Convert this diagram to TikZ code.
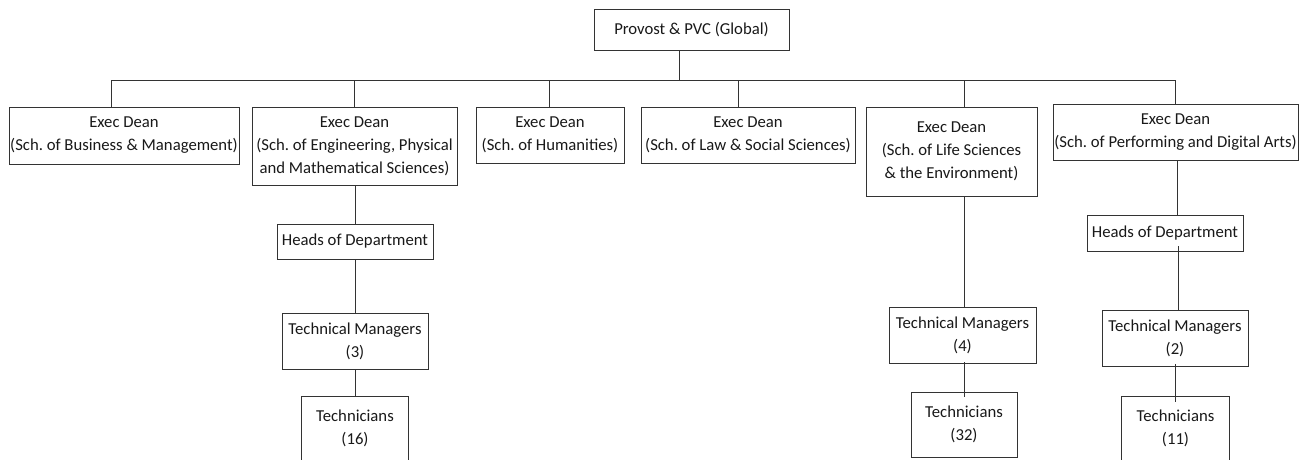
\documentclass[tikz,border=0pt]{standalone}
\usepackage{fontspec}
\setmainfont{Carlito}
\frenchspacing
\begin{document}
\begin{tikzpicture}[x=1pt,y=-1pt,
  box/.style={draw=black!80,line width=0.9pt,inner sep=0pt,align=center,font=\fontsize{16.7}{23}\selectfont,text=black!90},
  open/.style={draw=none,inner sep=0pt,align=center,font=\fontsize{16.7}{23}\selectfont,text=black!90},
  edge/.style={draw=black!80,line width=0.9pt}]
\useasboundingbox[fill=white] (0,0) rectangle (1309,459);
\clip (0,0) rectangle (1309,459);
% nodes
\node[box,minimum width=195,minimum height=41] (top) at (691.5,29.5) {Provost \& PVC (Global)};
\node[box,minimum width=230,minimum height=57] (b1) at (124,135.5) {Exec Dean\\(Sch. of Business \& Management)};
\node[box,minimum width=205,minimum height=78] (b2) at (354.5,146) {Exec Dean\\(Sch. of Engineering, Physical\\and Mathematical Sciences)};
\node[box,minimum width=148,minimum height=56] (b3) at (550,135) {Exec Dean\\(Sch. of Humanities)};
\node[box,minimum width=214,minimum height=56] (b4) at (748,135) {Exec Dean\\(Sch. of Law \& Social Sciences)};
\node[box,minimum width=171,minimum height=89] (b5) at (951.5,151.5) {Exec Dean\\(Sch. of Life Sciences\\\& the Environment)};
\node[box,minimum width=245,minimum height=56] (b6) at (1175.5,132) {Exec Dean\\(Sch. of Performing and Digital Arts)};
\node[box,minimum width=156,minimum height=35] (h2) at (355,241.5) {Heads of Department};
\node[box,minimum width=146,minimum height=56] (tm2) at (355,341) {Technical Managers\\(3)};
\node[open,minimum width=106,minimum height=62] (t2) at (355,428) {Technicians\\(16)};
\node[box,minimum width=147,minimum height=56] (tm5) at (962.5,335) {Technical Managers\\(4)};
\node[box,minimum width=106,minimum height=65] (t5) at (964,424.5) {Technicians\\(32)};
\node[box,minimum width=156,minimum height=36] (h6) at (1165,233) {Heads of Department};
\node[box,minimum width=146,minimum height=56] (tm6) at (1175,338) {Technical Managers\\(2)};
\node[open,minimum width=107,minimum height=62] (t6) at (1175.5,428) {Technicians\\(11)};
% open-bottom boxes
\draw[edge] ([yshift=-20]t2.south west) -- (t2.north west) -- (t2.north east) -- ([yshift=-20]t2.south east);
\draw[edge] ([yshift=-20]t6.south west) -- (t6.north west) -- (t6.north east) -- ([yshift=-20]t6.south east);
% bus
\coordinate (bus) at (679,80);
\coordinate (j1) at (111,80);
\coordinate (j2) at (354,80);
\coordinate (j3) at (549,80);
\coordinate (j4) at (738,80);
\coordinate (j5) at (964,80);
\coordinate (j6) at (1175,80);
\draw[edge] (bus |- top.south) -- (bus);
\draw[edge] (j1) -- (j6);
\draw[edge] (j1) -- (j1 |- b1.north);
\draw[edge] (j2) -- (j2 |- b2.north);
\draw[edge] (j3) -- (j3 |- b3.north);
\draw[edge] (j4) -- (j4 |- b4.north);
\draw[edge] (j5) -- (j5 |- b5.north);
\draw[edge] (j6) -- (j6 |- b6.north);
% engineering chain
\draw[edge] (h2.north) -- (h2.north |- b2.south);
\draw[edge] (h2.south) -- (tm2.north);
\draw[edge] (tm2.south) -- (tm2.south |- t2.north);
% life sciences chain
\coordinate (c5) at (964,0);
\draw[edge] (c5 |- b5.south) -- (c5 |- tm5.north);
\draw[edge] ([yshift=1]c5 |- tm5.south) -- ([yshift=-5]c5 |- t5.north);
% performing chain
\coordinate (c6) at (1177,0);
\coordinate (d6) at (1178,0);
\draw[edge] (c6 |- b6.south) -- (c6 |- h6.north);
\draw[edge] ([yshift=5]d6 |- h6.south) -- (d6 |- tm6.north);
\draw[edge] ([yshift=2]tm6.south) -- ([yshift=-5]tm6.south |- t6.north);
\end{tikzpicture}
\end{document}
